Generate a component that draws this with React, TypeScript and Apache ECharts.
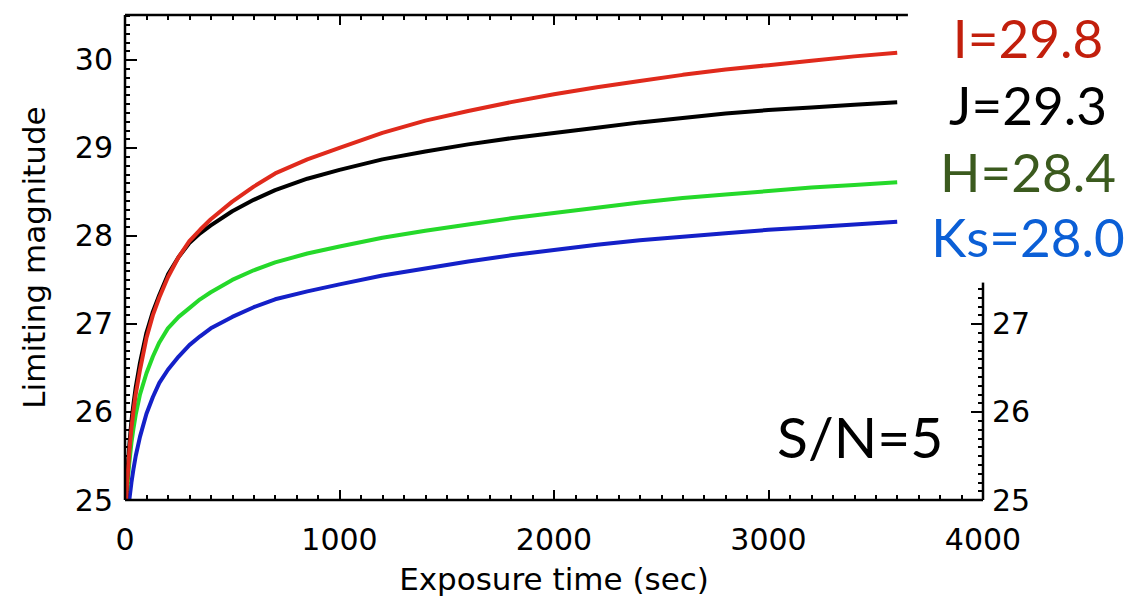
import React, { useEffect, useRef } from "react";
import * as echarts from "echarts";

// Exposure times (sec) at which the limiting magnitudes are sampled
const times = [2, 5, 10, 15, 20, 30, 40, 50, 70, 100, 130, 160, 200, 250, 300, 350, 400, 500, 600, 700, 850, 1000, 1200, 1400, 1600, 1800, 2000, 2200, 2400, 2600, 2800, 3000, 3200, 3400, 3600];

// Limiting magnitude per band (S/N = 5)
const magI = [null, 25.0, 25.2, 25.38, 25.55, 25.82, 26.02, 26.2, 26.48, 26.84, 27.1, 27.3, 27.53, 27.76, 27.94, 28.07, 28.19, 28.39, 28.56, 28.71, 28.87, 29.0, 29.17, 29.31, 29.42, 29.52, 29.61, 29.69, 29.76, 29.83, 29.89, 29.94, 29.99, 30.04, 30.08];
const magJ = [null, 25.0, 25.25, 25.45, 25.62, 25.9, 26.1, 26.28, 26.56, 26.9, 27.14, 27.33, 27.56, 27.76, 27.92, 28.03, 28.12, 28.28, 28.41, 28.52, 28.65, 28.75, 28.87, 28.96, 29.04, 29.11, 29.17, 29.23, 29.29, 29.34, 29.39, 29.43, 29.46, 29.49, 29.52];
const magH = [null, null, 25.1, 25.28, 25.42, 25.65, 25.82, 25.97, 26.2, 26.44, 26.63, 26.79, 26.95, 27.08, 27.18, 27.28, 27.36, 27.5, 27.61, 27.7, 27.8, 27.88, 27.98, 28.06, 28.13, 28.2, 28.26, 28.32, 28.38, 28.43, 28.47, 28.51, 28.55, 28.58, 28.61];
const magKs = [null, null, null, null, 25.0, 25.2, 25.36, 25.5, 25.72, 25.98, 26.17, 26.33, 26.48, 26.63, 26.76, 26.86, 26.95, 27.08, 27.19, 27.28, 27.37, 27.45, 27.55, 27.63, 27.71, 27.78, 27.84, 27.9, 27.95, 27.99, 28.03, 28.07, 28.1, 28.13, 28.16];

// Band labels shown beside the plot
const bandLabels = ["I=29.8", "J=29.3", "H=28.4", "Ks=28.0"];
const bandLabelColors = ["#c21f0c", "#000000", "#3b5a1e", "#0b5fd6"];
const lineColors = ["#e02a1c", "#000000", "#25d92a", "#1420c8"];

// Axis ranges
const X_MIN = 0;
const X_MAX = 4000;
const Y_MIN = 25;
const Y_MAX = 30.51;

// Visible parts of the top and right frame edges (the band labels sit over the rest)
const topFrameEnd = 3650;
const rightFrameTop = 27.47;

// Tick positions on the partly hidden top and right edges
const topMajorTicks = [0, 1000, 2000, 3000];
const rightMajorTicks = [25, 26, 27];

const steps = (from: number, to: number, step: number) => {
  const out: number[] = [];
  const n = Math.floor((to - from) / step + 1e-6);
  for (let k = 0; k <= n; k++) out.push(+(from + k * step).toFixed(3));
  return out;
};

const pair = (m: (number | null)[]) =>
  times.map((t, i) => [t, m[i]]).filter((p) => p[1] !== null);

export default function App() {
  const ref = useRef<HTMLDivElement>(null);

  useEffect(() => {
    if (!ref.current) return;
    const chart = echarts.init(ref.current, null, { renderer: "svg" });
    const axisFont = "DejaVu Sans";
    const labelFont = "Lato";

    const seriesData = [pair(magI), pair(magJ), pair(magH), pair(magKs)];
    const labelBottoms = [64, 131, 198, 263];
    const tickLine = { color: "#000", width: 2 };
    const noLine = { show: false, onZero: false };

    const frameSeries = (data: number[][]) => ({
      type: "line",
      data,
      xAxisIndex: 0,
      yAxisIndex: 0,
      clip: false,
      silent: true,
      showSymbol: false,
      symbol: "none",
      lineStyle: { color: "#000", width: 2.5 },
      z: 6,
    });

    chart.setOption({
      animation: false,
      backgroundColor: "#ffffff",
      grid: { left: 125, right: 144, top: 15, bottom: 101 },
      title: [
        ...bandLabels.map((txt, i) => ({
          text: txt,
          left: 1028,
          top: labelBottoms[i],
          padding: 0,
          textAlign: "center",
          textVerticalAlign: "bottom",
          textStyle: { fontFamily: labelFont, fontSize: 53, fontWeight: "normal", color: bandLabelColors[i] },
        })),
        {
          text: "S/N=5",
          left: 777,
          top: 464,
          padding: 0,
          textAlign: "left",
          textVerticalAlign: "bottom",
          textStyle: { fontFamily: labelFont, fontSize: 57, fontWeight: "normal", color: "#000" },
        },
      ],
      xAxis: [
        {
          type: "value",
          position: "bottom",
          min: X_MIN,
          max: X_MAX,
          interval: 1000,
          name: "Exposure time (sec)",
          nameLocation: "middle",
          nameGap: 63,
          nameTextStyle: { fontFamily: axisFont, fontSize: 31, color: "#000" },
          axisLine: noLine,
          axisTick: { show: true, inside: true, length: 10, lineStyle: tickLine },
          minorTick: { show: true, splitNumber: 10, length: 5, lineStyle: tickLine },
          axisLabel: { margin: 24, fontFamily: axisFont, fontSize: 30, color: "#000", formatter: (v: number) => String(v) },
          splitLine: { show: false },
        },
        {
          type: "value",
          position: "top",
          min: X_MIN,
          max: X_MAX,
          interval: 1000,
          axisLine: noLine,
          axisTick: { show: true, inside: true, length: 10, lineStyle: tickLine, customValues: topMajorTicks },
          axisLabel: { show: false },
          splitLine: { show: false },
        },
        {
          type: "value",
          position: "top",
          min: X_MIN,
          max: X_MAX,
          interval: 100,
          axisLine: noLine,
          axisTick: { show: true, inside: true, length: 5, lineStyle: tickLine, customValues: steps(0, 3600, 100) },
          axisLabel: { show: false },
          splitLine: { show: false },
        },
      ],
      yAxis: [
        {
          type: "value",
          position: "left",
          min: Y_MIN,
          max: Y_MAX,
          interval: 1,
          name: "Limiting magnitude",
          nameLocation: "middle",
          nameGap: 76,
          nameTextStyle: { fontFamily: axisFont, fontSize: 31, color: "#000" },
          axisLine: noLine,
          axisTick: { show: true, inside: true, length: 12, lineStyle: tickLine },
          minorTick: { show: true, splitNumber: 10, length: 5, lineStyle: tickLine },
          axisLabel: {
            margin: 12,
            fontFamily: axisFont,
            fontSize: 30,
            color: "#000",
            formatter: (v: number) => (Number.isInteger(v) ? String(v) : ""),
          },
          splitLine: { show: false },
        },
        {
          type: "value",
          position: "right",
          min: Y_MIN,
          max: Y_MAX,
          interval: 1,
          axisLine: noLine,
          axisTick: { show: true, inside: true, length: 12, lineStyle: tickLine, customValues: rightMajorTicks },
          axisLabel: {
            margin: 9,
            fontFamily: axisFont,
            fontSize: 30,
            color: "#000",
            formatter: (v: number) => (Number.isInteger(v) && v <= 27 ? String(v) : ""),
          },
          splitLine: { show: false },
        },
        {
          type: "value",
          position: "right",
          min: Y_MIN,
          max: Y_MAX,
          interval: 0.1,
          axisLine: noLine,
          axisTick: { show: true, inside: true, length: 5, lineStyle: tickLine, customValues: steps(25, 27.4, 0.1) },
          axisLabel: { show: false },
          splitLine: { show: false },
        },
      ],
      series: [
        ...seriesData.map((data, i) => ({
          type: "line",
          name: bandLabels[i],
          data,
          xAxisIndex: 0,
          yAxisIndex: 0,
          smooth: false,
          showSymbol: false,
          symbol: "none",
          lineStyle: { color: lineColors[i], width: 4 },
          z: 4 - i,
        })),
        frameSeries([[X_MIN, Y_MIN], [X_MIN, Y_MAX]]),
        frameSeries([[X_MIN, Y_MIN], [X_MAX, Y_MIN]]),
        frameSeries([[X_MIN, Y_MAX], [topFrameEnd, Y_MAX]]),
        frameSeries([[X_MAX, Y_MIN], [X_MAX, rightFrameTop]]),
      ],
    });

    return () => chart.dispose();
  }, []);

  return (
    <div
      ref={ref}
      style={{ position: "fixed", left: 0, top: 0, width: 1127, height: 601, background: "#fff" }}
    />
  );
}
